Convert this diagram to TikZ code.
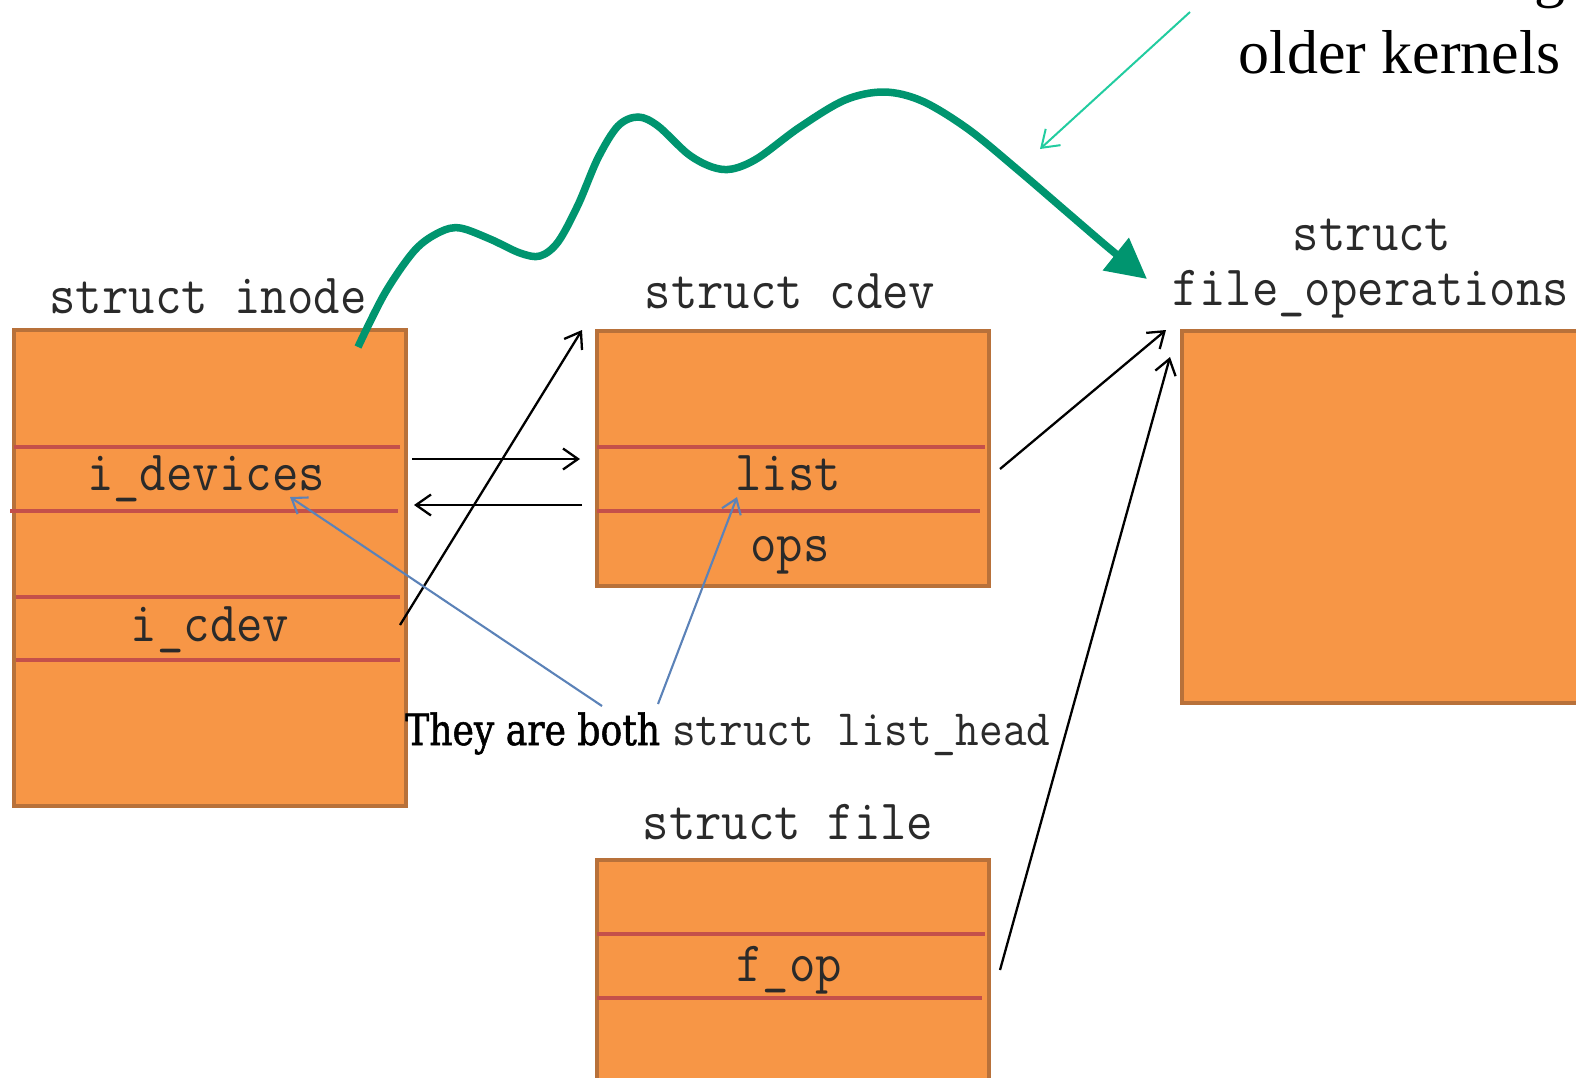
\documentclass[tikz,border=0pt]{standalone}
\usepackage{fontspec}
\setmainfont{Liberation Serif}
\newfontfamily\codefont{Latin Modern Mono}[FakeStretch=0.9]
\newfontfamily\notefont{DejaVu Serif}[FakeStretch=0.84,FakeBold=1.2]
\usetikzlibrary{arrows.meta}
\definecolor{boxfill}{HTML}{F79646}
\definecolor{boxedge}{HTML}{B8713A}
\definecolor{divred}{HTML}{C4504A}
\definecolor{codegray}{HTML}{2A2A2A}
\definecolor{curvegreen}{HTML}{00956F}
\definecolor{notecyan}{HTML}{22CCA0}
\definecolor{noteblue}{HTML}{5B82B8}
\tikzset{
  structbox/.style={draw=boxedge, fill=boxfill, line width=4pt, inner sep=0pt, anchor=north west},
  divider/.style={draw=divred, line width=3.4pt},
  code/.style={font=\codefont\fontsize{57}{60}\selectfont, text=codegray, inner sep=0pt, anchor=base},
  ptr/.style={draw=black, line width=2.3pt, -{Straight Barb[length=15pt,width=21pt,line width=2.3pt]}},
  bluearrow/.style={draw=noteblue, line width=2.1pt, -{Straight Barb[length=14pt,width=20pt,line width=2.1pt]}},
  cyanarrow/.style={draw=notecyan, line width=2pt, -{Straight Barb[length=16pt,width=22pt,line width=2pt]}},
  greencurve/.style={draw=curvegreen, line width=7.5pt, -{Triangle[length=40pt,width=40pt]}},
}
\begin{document}
\begin{tikzpicture}[x=1pt,y=-1pt]
\useasboundingbox (0,0) rectangle (1576,1077);
\clip (0,0) rectangle (1576,1077);

% boxes
\node[structbox, minimum width=392pt, minimum height=476pt] (inode) at (12,328) {};
\node[structbox, minimum width=392pt, minimum height=255pt] (cdev) at (595,329) {};
\node[structbox, minimum width=420pt, minimum height=372pt] (fops) at (1180,329) {};
\node[structbox, minimum width=392pt, minimum height=240pt] (file) at (595,858) {};

% dividers
\draw[divider] (14,447) -- (400,447);
\draw[divider] (10,511) -- (398,511);
\draw[divider] (16,597) -- (400,597);
\draw[divider] (16,660) -- (400,660);
\draw[divider] (597,447) -- (985,447);
\draw[divider] (597,511) -- (980,511);
\draw[divider] (597,934) -- (985,934);
\draw[divider] (597,998) -- (982,998);

% titles
\node[code] (tinode) at (208,313) {struct inode};
\node[code] (tcdev) at (790,308) {struct cdev};
\node[code] (tfops1) at (1372,250) {struct};
\node[code] (tfops2) at (1371,305) {file\_operations};
\node[code] (tfile) at (788,839) {struct file};

% fields
\node[code] (idevices) at (206,490) {i\_devices};
\node[code] (icdev) at (210,641) {i\_cdev};
\node[code] (list) at (788,490) {list};
\node[code] (ops) at (790,561) {ops};
\node[code] (fop) at (789,981) {f\_op};

% note
\node[anchor=base west, inner sep=0pt] (note) at (405,745)
  {\notefont\fontsize{43}{48}\selectfont They are both\hspace{12pt}{\codefont\fontsize{51}{54}\selectfont\color{codegray}struct list\_head}};

\node[anchor=base east, inner sep=0pt] (older) at (1561,73) {\fontsize{62}{66}\selectfont older kernels};
\node[anchor=base east, inner sep=0pt] (gtail) at (1566,-5) {\fontsize{62}{66}\selectfont g};

% connector end points
\coordinate (icdevE) at (400,625);
\coordinate (cdevIn) at (582,330);
\coordinate (nextS) at (412,459);
\coordinate (nextE) at (580,459);
\coordinate (prevS) at (582,505);
\coordinate (prevE) at (414,505);
\coordinate (opsE) at (1000,469);
\coordinate (fopsA) at (1166,330);
\coordinate (fopE) at (1000,970);
\coordinate (fopsB) at (1170,357);
\coordinate (noteL) at (602,706);
\coordinate (noteR) at (658,704);
\coordinate (idevIn) at (290,497);
\coordinate (listIn) at (737,497);
\coordinate (cyanS) at (1190,12);
\coordinate (cyanE) at (1040,149);

\draw[ptr] (icdevE) -- (cdevIn);
\draw[ptr] (nextS) -- (nextE);
\draw[ptr] (prevS) -- (prevE);
\draw[ptr] (opsE) -- (fopsA);
\draw[ptr] (fopE) -- (fopsB);
\draw[bluearrow] (noteL) -- (idevIn);
\draw[bluearrow] (noteR) -- (listIn);
\draw[cyanarrow] (cyanS) -- (cyanE);

\draw[greencurve] plot[smooth, tension=0.55] coordinates {
 (358,347) (385,293) (415,250) (440,232) (460,228) (490,239) (520,253) (540,256)
 (558,242) (578,205) (598,158) (618,126) (638,117) (658,126) (688,154) (712,167)
 (732,169) (758,158) (800,127) (845,100) (884,92) (922,101) (968,129) (1018,170)
 (1068,213) (1110,249) (1147,279)};
\end{tikzpicture}
\end{document}
